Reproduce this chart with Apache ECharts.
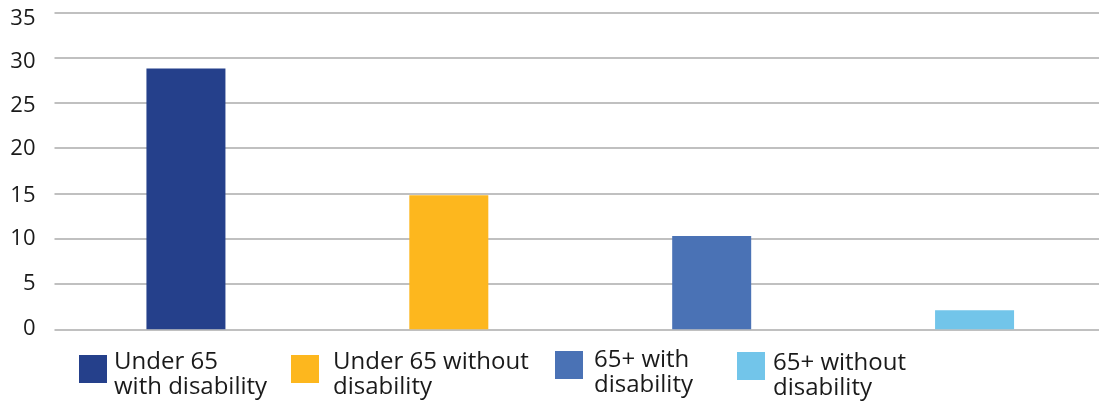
<!DOCTYPE html>
<html>
<head>
<meta charset="utf-8">
<script src="https://cdn.jsdelivr.net/npm/echarts@6/dist/echarts.min.js"></script>
<style>html,body{margin:0;padding:0;background:#fff;overflow:hidden}#c{width:1106px;height:404px}</style>
</head>
<body>
<div id="c"></div>
<script>
var categories = ['Under 65\nwith disability', 'Under 65 without\ndisability', '65+ with\ndisability', '65+ without\ndisability'];
var values = [28.8, 14.8, 10.3, 2.1];
var colors = ['#25408b', '#fdb71e', '#4a72b5', '#72c5ea'];
var yTicks = { min: 0, max: 35, interval: 5 };

var FONT = '"Open Sans", "Noto Sans", sans-serif';
var series = categories.map(function (name, i) {
  return {
    name: name,
    type: 'bar',
    barWidth: 79,
    barGap: '-100%',
    itemStyle: { color: colors[i] },
    data: categories.map(function (c, j) { return j === i ? values[i] : null; })
  };
});

// legend layout: [left, top, text left gap, spacer line height above text]
var legendPos = [
  [79, 338, 2, 12],
  [291, 338, 9, 12],
  [555, 332.5, 6, 15],
  [737, 331.5, 3, 19]
];
var legends = categories.map(function (name, i) {
  var lp = legendPos[i];
  return {
    data: [name],
    left: lp[0],
    top: lp[1],
    padding: 0,
    itemWidth: 28,
    itemHeight: 28,
    icon: 'rect',
    selectedMode: false,
    formatter: function (n) {
      return '{g|\u00a0}\n' + n.split('\n').map(function (s) { return '{t|' + s + '}'; }).join('\n');
    },
    textStyle: {
      fontFamily: FONT,
      fontSize: 24,
      color: '#1a1a1a',
      rich: {
        g: { fontSize: 4, lineHeight: lp[3], height: lp[3] },
        t: { fontFamily: FONT, fontSize: 24, lineHeight: 25, color: '#1a1a1a', padding: [0, 0, 0, lp[2]] }
      }
    }
  };
});

// per-label vertical nudges (px) of the y-axis tick labels
var labelNudge = { 35: 6, 30: 4, 25: 3, 20: 1, 15: 2, 10: 0, 5: 0, 0: -1 };
var rich = {};
Object.keys(labelNudge).forEach(function (k) {
  var n = labelNudge[k];
  rich['v' + k] = {
    fontFamily: FONT, fontSize: 22, color: '#1a1a1a',
    padding: n >= 0 ? [2 * n, 0, 0, 0] : [0, 0, -2 * n, 0]
  };
});

var chart = echarts.init(document.getElementById('c'), null, { renderer: 'canvas' });
chart.setOption({
  animation: false,
  grid: { left: 54.5, top: 12.3, right: 0, height: 317, containLabel: false },
  legend: legends,
  xAxis: {
    type: 'category',
    data: categories,
    axisLine: { show: false },
    axisTick: { show: false },
    axisLabel: { show: false }
  },
  yAxis: {
    type: 'value',
    min: yTicks.min,
    max: yTicks.max,
    interval: yTicks.interval,
    axisLine: { show: false },
    axisTick: { show: false },
    axisLabel: {
      fontFamily: FONT, fontSize: 22, color: '#1a1a1a', margin: 19,
      formatter: function (v) { return '{v' + v + '|' + v + '}'; },
      rich: rich
    },
    splitLine: { lineStyle: { color: '#ababab', width: 1.5 } }
  },
  series: series
});
</script>
</body>
</html>
